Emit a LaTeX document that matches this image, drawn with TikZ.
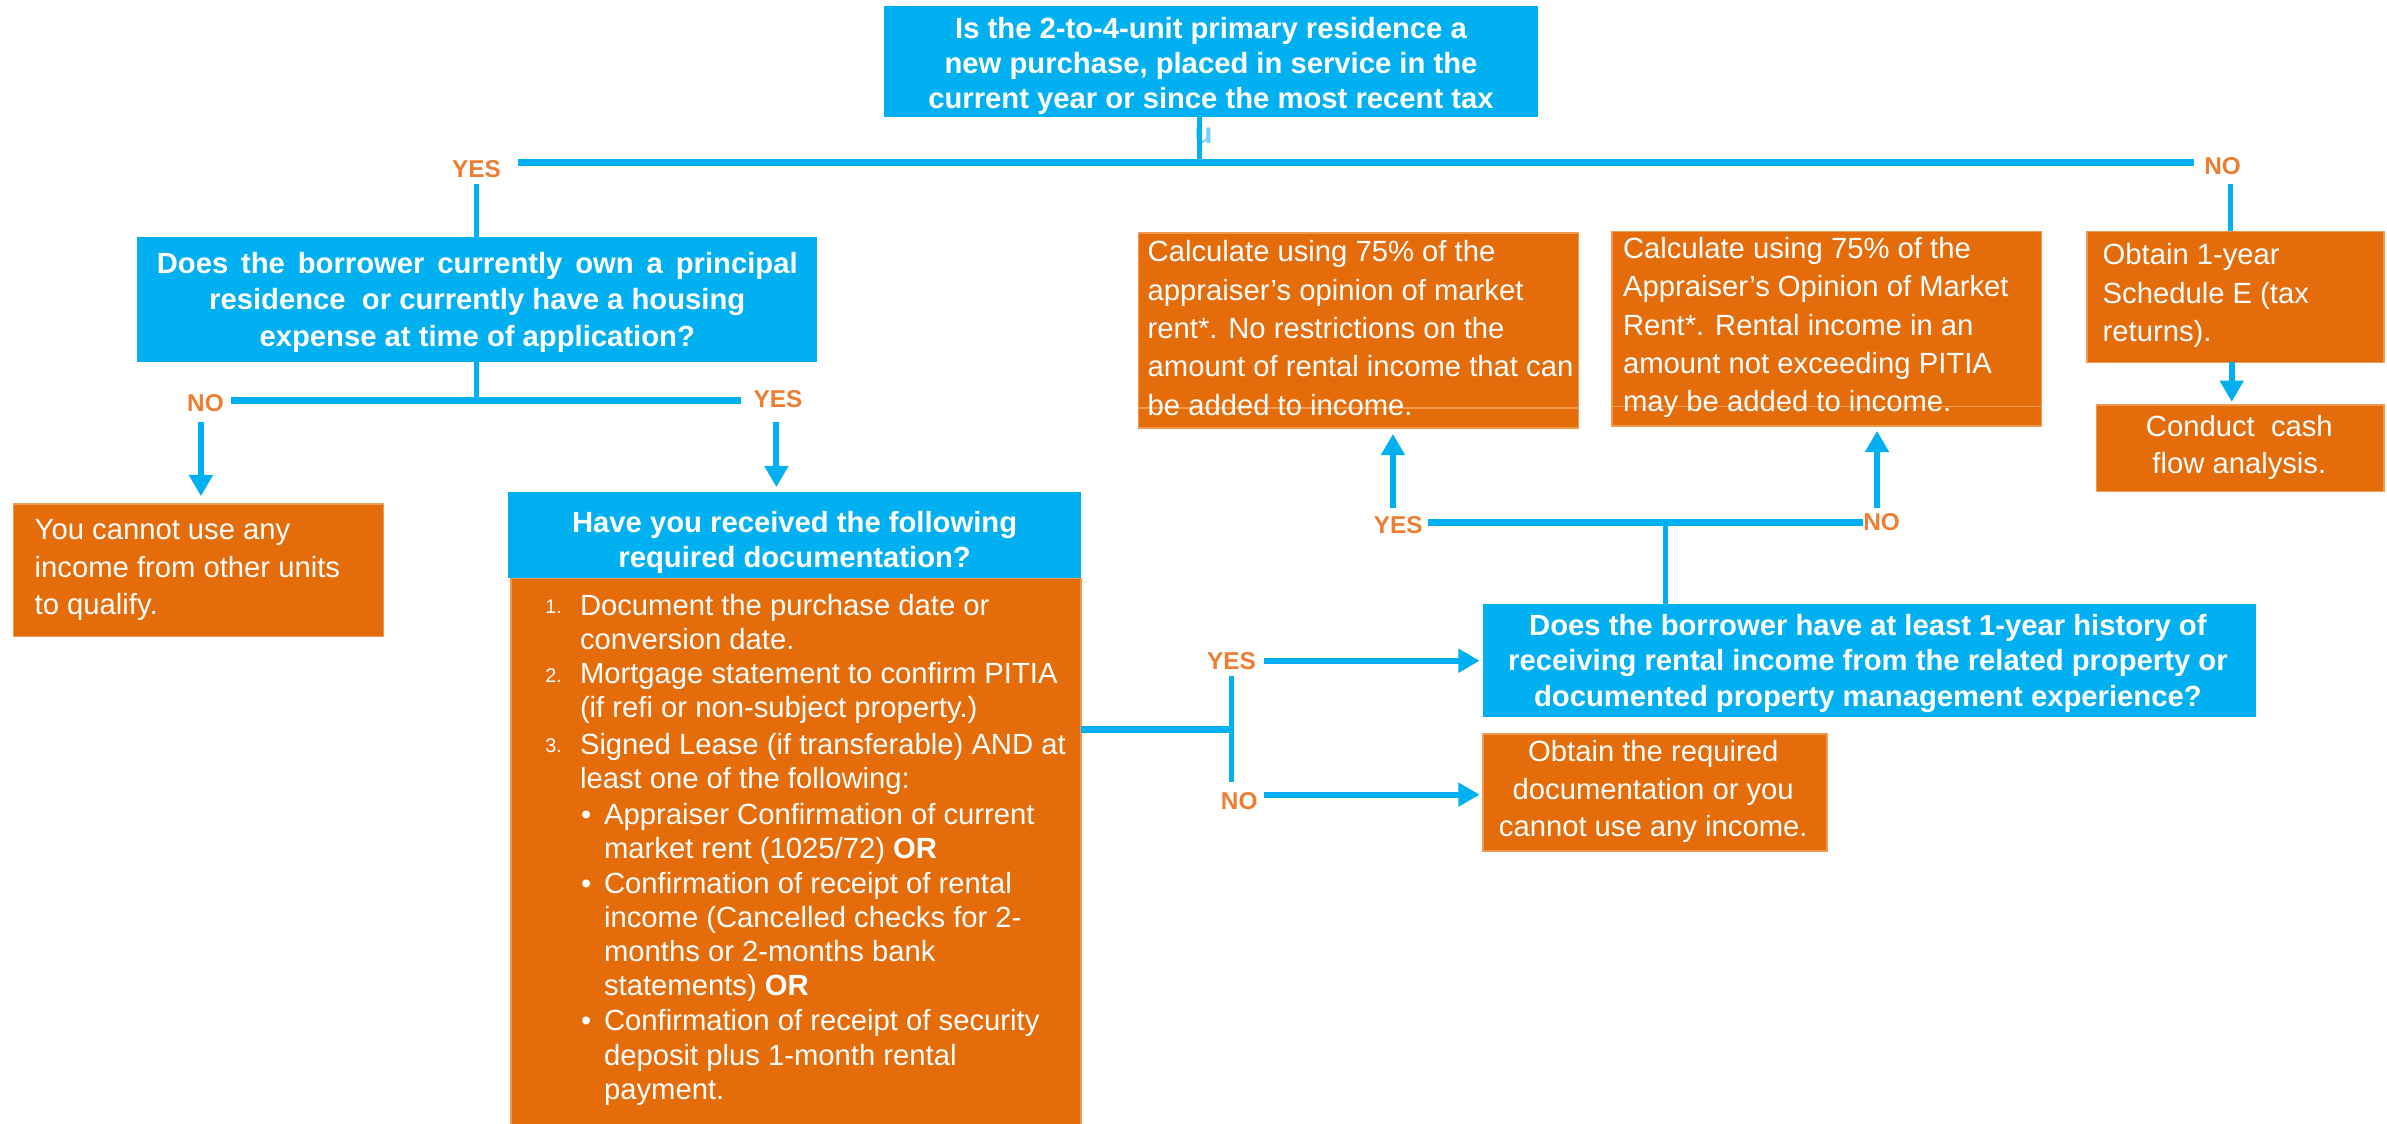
\documentclass[tikz,border=0pt]{standalone}
\usepackage{fontspec}
\setmainfont{Liberation Sans}
\usetikzlibrary{arrows.meta}
\definecolor{cblue}{HTML}{00B0F0}
\definecolor{corange}{HTML}{E46C0A}
\definecolor{clab}{HTML}{ED7D31}
\definecolor{cedge}{HTML}{F09A50}
\begin{document}
\begin{tikzpicture}[x=1pt,y=-1pt,
  bluebox/.style={fill=cblue, draw=none, inner sep=0pt, outer sep=0pt},
  orbox/.style={fill=corange, draw=cedge, line width=1pt, inner sep=0pt, outer sep=0pt},
  qtext/.style={font=\bfseries\fontsize{19.2}{23}\selectfont, text=white, inner sep=0pt, align=center},
  btext/.style={font=\fontsize{19.2}{24.6}\selectfont, text=white, inner sep=0pt, align=left},
  listtext/.style={font=\fontsize{19.2}{22.4}\selectfont, text=white, inner sep=0pt, align=left, anchor=base west},
  numtext/.style={font=\fontsize{13}{13}\selectfont, text=white, inner sep=0pt, anchor=base west},
  bultext/.style={font=\fontsize{19}{19}\selectfont, text=white, inner sep=0pt, anchor=base west},
  lab/.style={font=\bfseries\fontsize{16}{16}\selectfont, text=clab, inner sep=0pt},
  cline/.style={draw=cblue, line width=4.5pt},
  sline/.style={draw=cblue, line width=3.5pt},
  arr/.style={draw=cblue, line width=4pt, -{Triangle[length=14pt,width=15pt]}}
]
\useasboundingbox (0,0) rectangle (1568,738);

% ---------- boxes ----------
\node[bluebox, minimum width=429pt, minimum height=73pt] (q1) at (795.5,40.5) {};
\node[bluebox, minimum width=447pt, minimum height=82pt] (q2) at (313.5,197) {};
\node[orbox, minimum width=243pt, minimum height=87pt] (r1) at (130.5,374.5) {};
\node[orbox, minimum width=374.5pt, minimum height=360pt] (q3b) at (522.75,560) {};
\node[bluebox, minimum width=376pt, minimum height=57pt] (q3h) at (522,351.5) {};
\node[bluebox, minimum width=508pt, minimum height=74pt] (q4) at (1228,434) {};
\node[orbox, minimum width=226pt, minimum height=77pt] (r2) at (1087,520.5) {};
\node[orbox, minimum width=289pt, minimum height=128pt] (c1) at (892.5,217) {};
\node[orbox, minimum width=282pt, minimum height=128pt] (c2) at (1200,216) {};
\node[orbox, minimum width=195pt, minimum height=86pt] (s1) at (1468.5,195) {};
\node[orbox, minimum width=189pt, minimum height=57pt] (s2) at (1471.5,294.5) {};
\draw[draw=cedge, line width=1.2pt] (c1.west |- 0,268) -- (c1.east |- 0,268);
\draw[draw=cedge, line width=1.2pt] (c2.west |- 0,267) -- (c2.east |- 0,267);

% ---------- texts (anchor = baseline of last line) ----------
\node[qtext, anchor=base] (q1t) at (795.5,71.2) {Is the 2-to-4-unit primary residence a\\new purchase, placed in service in the\\current year or since the most recent tax};
\node[font=\bfseries\fontsize{19.2}{23}\selectfont, text=cblue!55, inner sep=0pt, anchor=base west] (q1u) at (784.5,94) {u};
\node[qtext, anchor=base, font=\bfseries\fontsize{19.2}{24}\selectfont] (q2t) at (313.5,227.4)
  {\makebox[421pt][s]{Does the borrower currently own a principal}\\residence\ \ or currently have a housing\\expense at time of application?};
\node[btext, anchor=base west] (r1t) at (22.6,403.9) {You cannot use any\\income from other units\\to qualify.};
\node[qtext, anchor=base] (q3ht) at (522,373.1) {Have you received the following\\required documentation?};

% list in documentation box
\node[numtext] (n1) at (358,403) {1.};
\node[listtext] (l1) at (380.8,426.8) {Document the purchase date or\\conversion date.};
\node[numtext] (n2) at (358,448) {2.};
\node[listtext] (l2) at (380.8,471.6) {Mortgage statement to confirm PITIA\\(if refi or non-subject property.)};
\node[numtext] (n3) at (358,494.5) {3.};
\node[listtext] (l3) at (380.8,517.8) {Signed Lease (if transferable) AND at\\least one of the following:};
\node[bultext] (b1) at (381.5,541.5) {\textbullet};
\node[listtext] (l4) at (396.6,563.9) {Appraiser Confirmation of current\\market rent (1025/72) \textbf{OR}};
\node[bultext] (b2) at (381.5,587) {\textbullet};
\node[listtext] (l5) at (396.6,654.2) {Confirmation of receipt of rental\\income (Cancelled checks for 2-\\months or 2-months bank\\statements) \textbf{OR}};
\node[bultext] (b3) at (381.5,677.2) {\textbullet};
\node[listtext] (l6) at (396.6,722) {Confirmation of receipt of security\\deposit plus 1-month rental\\payment.};

\node[qtext, anchor=base, font=\bfseries\fontsize{19.2}{23.5}\selectfont] (q4t) at (1227,464.2)
  {Does the borrower have at least 1-year history of\\receiving rental income from the related property or\\documented property management experience?};
\node[btext, align=center, anchor=base] (r2t) at (1086,549.6) {Obtain the required\\documentation or you\\cannot use any income.};
\node[btext, anchor=base west, font=\fontsize{19.2}{25.2}\selectfont] (c1t) at (753.7,272.7)
  {Calculate using 75\% of the\\appraiser’s opinion of market\\rent*. No restrictions on the\\amount of rental income that can\\be added to income.};
\node[btext, anchor=base west, font=\fontsize{19.2}{25.2}\selectfont] (c2t) at (1066,270.5)
  {Calculate using 75\% of the\\Appraiser’s Opinion of Market\\Rent*. Rental income in an\\amount not exceeding PITIA\\may be added to income.};
\node[btext, anchor=base west, font=\fontsize{19.2}{25.2}\selectfont] (s1t) at (1381,224.4) {Obtain 1-year\\Schedule E (tax\\returns).};
\node[btext, align=center, anchor=base, font=\fontsize{19.2}{24.1}\selectfont] (s2t) at (1471,311) {Conduct\ \ cash\\flow analysis.};

% ---------- labels ----------
\node[lab] (yA) at (313,111) {YES};
\node[lab] (nA) at (1460,109) {NO};
\node[lab] (nB) at (135,265) {NO};
\node[lab] (yB) at (511,262.5) {YES};
\node[lab] (yC) at (809,434) {YES};
\node[lab] (nC) at (814,526) {NO};
\node[lab] (yD) at (918.5,345) {YES};
\node[lab] (nD) at (1236,343) {NO};

% ---------- connectors ----------
\coordinate (jt) at (788,107);
\coordinate (hl) at (340,107);
\coordinate (hr) at (1441,107);
\draw[sline] (q1.south -| jt) -- (jt);
\draw[cline] (hl) -- (hr);
\coordinate (ya0) at (313,121);
\draw[sline] (ya0) -- (ya0 |- q2.north);
\coordinate (na0) at (1465,121);
\draw[sline] (na0) -- (na0 |- s1.north);

\coordinate (j2) at (313,263);
\draw[sline] (q2.south -| j2) -- (j2);
\coordinate (h2l) at (152,263);
\coordinate (h2r) at (487,263);
\draw[cline] (h2l) -- (h2r);
\coordinate (nb0) at (132,277);
\draw[arr, shorten >=5pt] (nb0) -- (nb0 |- r1.north);
\coordinate (yb0) at (510,277);
\draw[arr, shorten >=3pt] (yb0) -- (yb0 |- q3h.north);

\coordinate (j3) at (809,479);
\draw[cline] (q3b.east |- j3) -- (j3);
\coordinate (v3t) at (809,444);
\coordinate (v3b) at (809,514);
\draw[sline] (v3t) -- (v3b);
\coordinate (yc0) at (830,434);
\draw[arr, shorten >=2pt] (yc0) -- (yc0 -| q4.west);
\coordinate (nc0) at (830,522);
\draw[arr, shorten >=2pt] (nc0) -- (nc0 -| r2.west);

\coordinate (j4) at (1094,343);
\draw[sline] (q4.north -| j4) -- (j4);
\coordinate (h4l) at (938,343);
\coordinate (h4r) at (1224,343);
\draw[cline] (h4l) -- (h4r);
\coordinate (yd0) at (915,334);
\draw[arr, shorten >=4pt] (yd0) -- (yd0 |- c1.south);
\coordinate (nd0) at (1233,334);
\draw[arr, shorten >=3pt] (nd0) -- (nd0 |- c2.south);

\coordinate (se0) at (1466,238);
\draw[arr, shorten >=2pt] (s1.south -| se0) -- (se0 |- s2.north);
\end{tikzpicture}
\end{document}
